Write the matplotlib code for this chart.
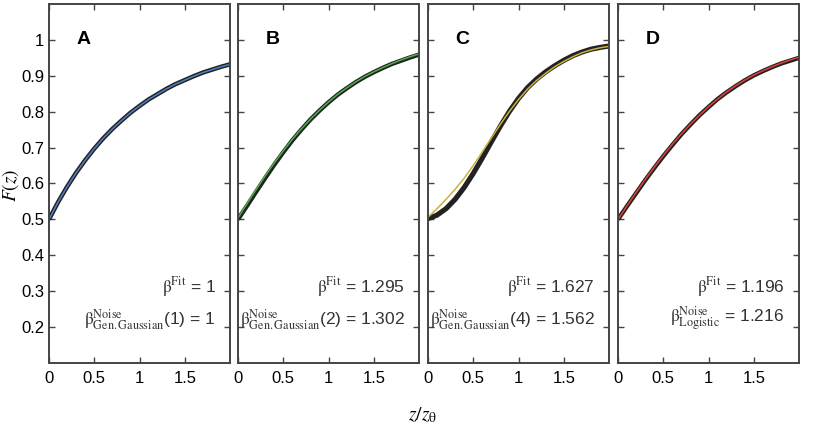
import matplotlib
matplotlib.use('Agg')
from matplotlib import pyplot as plt
import numpy as np

plt.rcParams['font.family'] = ['Liberation Sans', 'DejaVu Sans']
plt.rcParams['mathtext.fontset'] = 'stix'

z = [0.0, 0.1, 0.2, 0.3, 0.4, 0.5, 0.6, 0.7, 0.8, 0.9, 1.0,
     1.1, 1.2, 1.3, 1.4, 1.5, 1.6, 1.7, 1.8, 1.9, 2.0]

# panel A: generalized gaussian noise beta=1 and fit
a_noise = [0.500, 0.548, 0.591, 0.630, 0.665, 0.697, 0.726, 0.752, 0.775, 0.797, 0.816,
           0.834, 0.849, 0.864, 0.877, 0.888, 0.899, 0.909, 0.917, 0.925, 0.932]
a_fit = [0.500, 0.548, 0.591, 0.630, 0.665, 0.697, 0.726, 0.752, 0.775, 0.797, 0.816,
         0.834, 0.849, 0.864, 0.877, 0.888, 0.899, 0.909, 0.917, 0.925, 0.932]

# panel B: generalized gaussian noise beta=2 and fit
b_noise = [0.500, 0.538, 0.577, 0.615, 0.652, 0.687, 0.720, 0.750, 0.778, 0.803, 0.826,
           0.847, 0.865, 0.882, 0.897, 0.910, 0.922, 0.933, 0.942, 0.951, 0.959]
b_fit = [0.504, 0.544, 0.583, 0.621, 0.657, 0.691, 0.723, 0.752, 0.779, 0.804, 0.827,
         0.848, 0.866, 0.883, 0.898, 0.911, 0.923, 0.934, 0.944, 0.953, 0.961]

# panel C: generalized gaussian noise beta=4 and fit
c_noise = [0.502, 0.512, 0.530, 0.556, 0.589, 0.628, 0.671, 0.716, 0.760, 0.801, 0.837,
           0.867, 0.891, 0.911, 0.928, 0.943, 0.956, 0.966, 0.974, 0.979, 0.983]
c_fit = [0.506, 0.530, 0.556, 0.584, 0.615, 0.650, 0.688, 0.727, 0.765, 0.801, 0.834,
         0.863, 0.887, 0.907, 0.925, 0.940, 0.953, 0.964, 0.972, 0.978, 0.982]

# panel D: logistic noise and fit
d_noise = [0.500, 0.537, 0.573, 0.609, 0.643, 0.676, 0.707, 0.737, 0.764, 0.790, 0.813,
           0.835, 0.854, 0.871, 0.887, 0.901, 0.913, 0.924, 0.934, 0.942, 0.950]
d_fit = [0.500, 0.538, 0.575, 0.611, 0.645, 0.678, 0.709, 0.738, 0.765, 0.790, 0.814,
         0.835, 0.855, 0.872, 0.888, 0.902, 0.914, 0.925, 0.935, 0.944, 0.952]

letters = ['A', 'B', 'C', 'D']
fit_colors = ['#4f7fc4', '#4fae48', '#c9b33a', '#e0423a']
noise_black_lw = [3.2, 3.2, 3.7, 3.2]
fit_text = [r'$\mathrm{β}^{\mathrm{Fit}}$ = 1', r'$\mathrm{β}^{\mathrm{Fit}}$ = 1.295',
            r'$\mathrm{β}^{\mathrm{Fit}}$ = 1.627', r'$\mathrm{β}^{\mathrm{Fit}}$ = 1.196']
noise_text = [r'$\mathrm{β}^{\mathrm{Noise}}_{\mathrm{Gen.Gaussian}}$(1) = 1',
              r'$\mathrm{β}^{\mathrm{Noise}}_{\mathrm{Gen.Gaussian}}$(2) = 1.302',
              r'$\mathrm{β}^{\mathrm{Noise}}_{\mathrm{Gen.Gaussian}}$(4) = 1.562',
              r'$\mathrm{β}^{\mathrm{Noise}}_{\mathrm{Logistic}}$ = 1.216']
noises = [a_noise, b_noise, c_noise, d_noise]
fits = [a_fit, b_fit, c_fit, d_fit]

fig = plt.figure(figsize=(8.13, 4.3), dpi=100)
lefts = [49, 238, 428, 618]
spine_col = '#444444'

for i in range(4):
    ax = fig.add_axes([lefts[i] / 813, 1 - 363 / 430, 181 / 813, 359 / 430])
    ax.plot(z, noises[i], color='#222222', lw=noise_black_lw[i], solid_capstyle='butt')
    ax.plot(z, fits[i], color=fit_colors[i], lw=1.1)
    ax.set_xlim(0, 2)
    ax.set_ylim(0.1, 1.1)
    ax.set_xticks([0, 0.5, 1, 1.5])
    ax.set_xticklabels(['0', '0.5', '1', '1.5'])
    ax.set_yticks([0.2, 0.3, 0.4, 0.5, 0.6, 0.7, 0.8, 0.9, 1])
    if i == 0:
        ax.set_yticklabels(['0.2', '0.3', '0.4', '0.5', '0.6', '0.7', '0.8', '0.9', '1'])
    else:
        ax.set_yticklabels([])
    ax.tick_params(direction='in', top=True, right=True, length=4, width=1,
                   color=spine_col, labelsize=12)
    ax.tick_params(axis='x', pad=6)
    ax.tick_params(axis='y', pad=3.5)
    for s in ax.spines.values():
        s.set_color(spine_col)
        s.set_linewidth(1.4)
    ax.text(0.38, 1.0, letters[i], fontsize=14, fontweight='bold', ha='center', va='center')
    ax.text(1.84, 0.313, fit_text[i], fontsize=12.5, ha='right', va='center', color='#333333')
    ax.text(1.84, 0.222, noise_text[i], fontsize=12.5, ha='right', va='center', color='#333333')

fig.text(0.013, 0.57, r'$F(z)$', rotation=90, fontsize=14, ha='center', va='center')
fig.text(0.52, 0.035, r'$z/z_{\mathrm{θ}}$', fontsize=14, ha='center', va='center')

fig.savefig('out.png', dpi=100)
